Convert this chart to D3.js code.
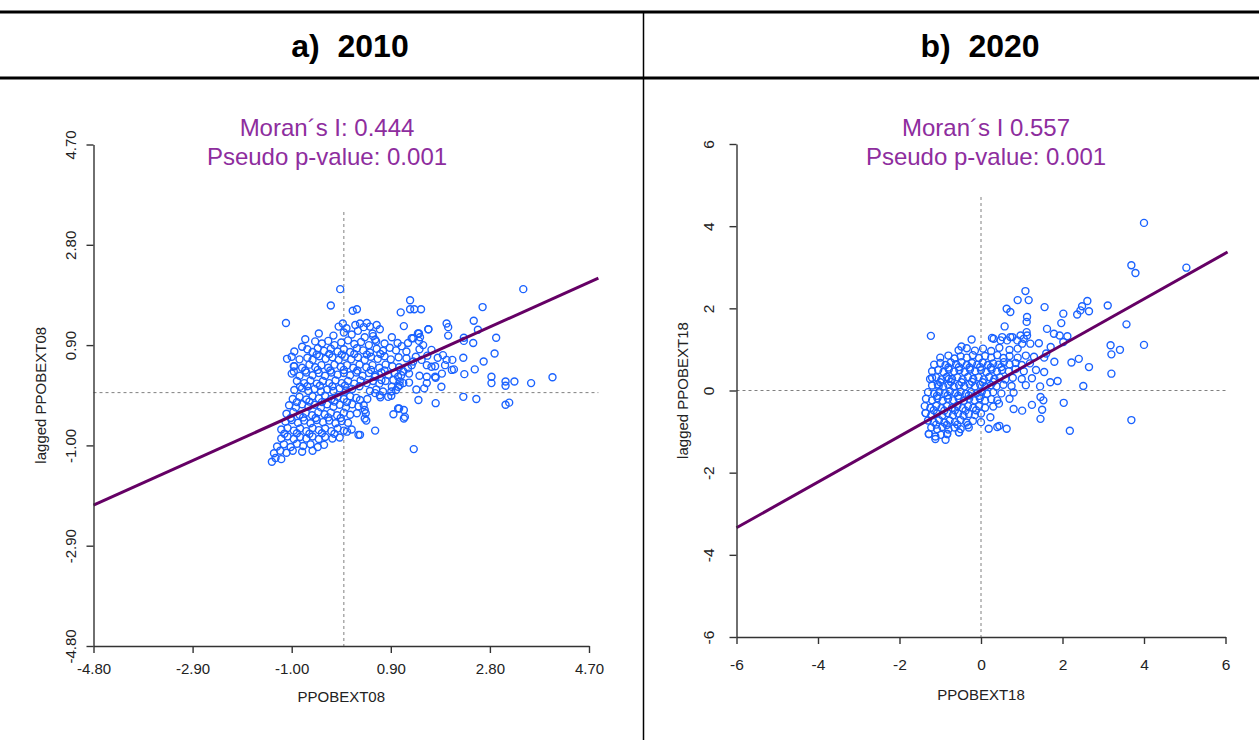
<!DOCTYPE html>
<html>
<head>
<meta charset="utf-8">
<script src="https://cdn.jsdelivr.net/npm/d3@7"></script>
<style>
  body { margin: 0; background: #fff; }
  svg { display: block; font-family: "Liberation Sans", Arial, sans-serif; }
</style>
</head>
<body>
<div id="chart"></div>
<script>
// 面板標題
var panelTitles = ['a)\u00a0\u00a02010', 'b)\u00a0\u00a02020'];
var xTitles = ['PPOBEXT08', 'PPOBEXT18'];
var yTitles = ['lagged PPOBEXT08', 'lagged PPOBEXT18'];

// Moran's I 與 pseudo p 值
var moranLabels = ['Moran\u00b4s I: 0.444', 'Moran\u00b4s I 0.557'];
var moranValues = [0.444, 0.557];
var pLabels = ['Pseudo p-value: 0.001', 'Pseudo p-value: 0.001'];

// 刻度
var ticks2010 = [-4.8, -2.9, -1.0, 0.9, 2.8, 4.7];
var ticks2020 = [-6, -4, -2, 0, 2, 4, 6];

// 2010 散佈點 [x, lagged]
var points2010 = [
  // outliers
  [-0.07, 1.96], [-0.25, 1.65], [-1.11, 1.32], [3.44, 1.96], [4.0, 0.29], [3.59, 0.18],
  [3.27, 0.21], [3.10, 0.21], [3.10, 0.13], [2.83, 0.30], [2.83, 0.18], [3.10, -0.23],
  [3.17, -0.19], [2.54, -0.12], [2.29, -0.08], [2.66, 1.62], [2.49, 1.36], [2.57, 1.19],
  [2.92, 1.04], [2.89, 0.74], [2.68, 0.59], [2.51, 0.44], [2.29, 0.66], [2.31, 0.35],
  [2.08, 0.62], [2.11, 0.44], [1.87, 0.11], [1.76, -0.20], [1.34, -1.07], [1.27, 1.75],
  [1.27, 1.58], [1.35, 1.58], [1.48, 1.58], [1.09, 1.52], [1.15, 1.26], [1.97, 1.31],
  [2.0, 1.24], [2.0, 1.08], [1.62, 1.20], [1.44, 1.12], [1.44, 0.98], [1.30, 1.03],
  [2.30, 1.04], [2.30, 0.98], [2.48, 0.94], [0.95, -0.41], [1.15, -0.33], [1.15, -0.49],
  [1.06, -0.30], [0.60, -0.72], [0.31, -0.80], [1.76, 0.28], [1.59, 0.18], [1.54, 0.08],
  [1.39, 0.06], [1.43, -0.14], [0.85, -0.08], [0.91, -0.06], [0.91, 0.02], [1.14, 0.18],
  [1.04, 0.11], [1.07, 0.21], [0.69, -0.05], [0.60, -0.01], [0.42, -0.39], [0.40, -0.49],
  [0.43, -0.53], [0.38, -0.24], [0.31, -0.14], [0.17, 1.55], [-0.02, 1.31], [-0.74, 1.01],
  [-0.80, 0.87], [-1.09, 0.64], [-0.96, 0.50], [-0.96, 0.40], [-0.84, 0.11], [0.25, 1.58],
  [0.31, 1.31], [0.44, 1.32], [0.50, 1.25], [0.63, 1.28], [0.69, 1.20], [0.56, 1.07],
  [0.60, 1.00], [0.92, 1.05], [1.03, 0.94], [1.11, 0.88], [1.23, 0.94], [1.33, 1.03],
  [1.42, 1.12], [1.46, 1.05], [1.62, 1.20], [1.52, 0.90], [1.68, 0.81], [1.90, 0.71],
  [1.97, 0.62], [1.94, 0.52], [2.07, 0.43], [1.59, 0.30], [1.75, 0.30], [1.68, 0.49],
  [1.59, 0.52], [1.49, 0.62], [1.33, 0.59], [1.23, 0.46], [1.14, 0.40], [1.04, 0.30],
  [1.07, 0.14], [0.92, 0.11], [0.95, 0.24], [1.04, -0.30], [1.17, -0.46], [0.40, -0.33],
  [0.06, -0.74], [0.28, -0.80], [0.60, 0.30], [0.72, 0.24],
  // core
  [-0.55, 0.97], [-0.42, 0.93], [-0.30, 0.98], [-0.18, 0.90], [-0.05, 0.95], [0.08, 0.99],
  [0.20, 0.92], [0.33, 0.96], [0.48, 0.90], [0.62, 0.97], [0.78, 0.93],
  [-0.48, 1.12], [-0.20, 1.08], [0.00, 1.14], [0.15, 1.10], [0.27, 1.17], [0.40, 1.05],
  [0.55, 1.12], [-0.10, 1.25], [0.05, 1.22], [0.22, 1.28], [0.38, 1.24],
  [-0.95, 0.78], [-0.70, 0.82], [-0.60, 0.77], [-0.50, 0.84], [-0.38, 0.79], [-0.25, 0.83],
  [-0.12, 0.78], [0.00, 0.82], [0.12, 0.77], [0.25, 0.84], [0.37, 0.80], [0.50, 0.76],
  [0.63, 0.83], [0.75, 0.79], [0.88, 0.85], [1.00, 0.80], [1.20, 0.78], [1.45, 0.82],
  [-0.52, 0.72], [-0.28, 0.73], [-0.04, 0.72], [0.20, 0.73], [0.44, 0.72], [0.70, 0.73],
  [-1.00, 0.68], [-0.85, 0.63], [-0.70, 0.66], [-0.60, 0.62], [-0.47, 0.69], [-0.35, 0.64],
  [-0.22, 0.67], [-0.10, 0.62], [0.02, 0.68], [0.14, 0.63], [0.27, 0.67], [0.40, 0.62],
  [0.52, 0.68], [0.65, 0.64], [0.78, 0.69], [0.90, 0.63], [1.05, 0.67], [1.20, 0.65],
  [1.38, 0.68], [1.60, 0.70], [1.80, 0.66],
  [-0.95, 0.50], [-0.80, 0.47], [-0.66, 0.53], [-0.55, 0.48], [-0.43, 0.52], [-0.30, 0.47],
  [-0.18, 0.53], [-0.06, 0.49], [0.06, 0.52], [0.18, 0.47], [0.30, 0.53], [0.43, 0.48],
  [0.55, 0.52], [0.68, 0.47], [0.80, 0.53], [0.93, 0.50], [1.06, 0.48], [1.30, 0.52], [1.75, 0.50],
  [-0.74, 0.42], [-0.50, 0.43], [-0.26, 0.42], [0.00, 0.43], [0.26, 0.42], [0.52, 0.43], [0.78, 0.42],
  [-1.00, 0.36], [-0.85, 0.32], [-0.72, 0.38], [-0.60, 0.33], [-0.48, 0.37], [-0.36, 0.32],
  [-0.24, 0.38], [-0.12, 0.34], [0.00, 0.37], [0.12, 0.33], [0.24, 0.38], [0.36, 0.32],
  [0.48, 0.37], [0.60, 0.33], [0.72, 0.38], [0.85, 0.34], [0.97, 0.37], [1.10, 0.33],
  [1.25, 0.36], [1.45, 0.32], [1.88, 0.36],
  [-0.90, 0.22], [-0.76, 0.18], [-0.64, 0.23], [-0.52, 0.17], [-0.40, 0.22], [-0.28, 0.18],
  [-0.16, 0.23], [-0.04, 0.18], [0.08, 0.22], [0.20, 0.17], [0.32, 0.23], [0.44, 0.18],
  [0.56, 0.22], [0.68, 0.17], [0.80, 0.22], [1.25, 0.19],
  [-0.70, 0.12], [-0.46, 0.13], [-0.22, 0.12], [0.02, 0.13], [0.30, 0.12],
  [-0.95, 0.05], [-0.80, 0.08], [-0.68, 0.03], [-0.56, 0.07], [-0.44, 0.02], [-0.32, 0.06],
  [-0.20, 0.03], [-0.08, 0.08], [0.04, 0.04], [0.16, 0.07], [0.50, 0.03], [0.62, 0.06],
  [0.75, 0.02], [1.00, 0.05],
  [-0.98, -0.12], [-0.85, -0.08], [-0.72, -0.13], [-0.60, -0.07], [-0.48, -0.11], [-0.36, -0.06],
  [-0.24, -0.12], [-0.12, -0.08], [0.00, -0.12], [0.12, -0.07], [0.24, -0.10], [0.45, -0.12], [0.70, -0.09],
  [-0.90, -0.18], [-0.66, -0.17], [-0.42, -0.18], [-0.18, -0.17], [0.06, -0.18],
  [-1.05, -0.24], [-0.92, -0.28], [-0.80, -0.22], [-0.68, -0.27], [-0.56, -0.23], [-0.44, -0.28],
  [-0.32, -0.22], [-0.20, -0.27], [-0.08, -0.23], [0.04, -0.28], [0.16, -0.22], [0.28, -0.26],
  [-1.10, -0.40], [-0.97, -0.37], [-0.85, -0.42], [-0.73, -0.38], [-0.61, -0.43], [-0.49, -0.37],
  [-0.37, -0.41], [-0.25, -0.38], [-0.13, -0.43], [0.00, -0.38], [0.12, -0.42], [0.25, -0.39],
  [-1.02, -0.48], [-0.78, -0.47], [-0.54, -0.48], [-0.30, -0.47], [-0.06, -0.48],
  [-1.12, -0.55], [-1.00, -0.52], [-0.88, -0.57], [-0.76, -0.53], [-0.64, -0.58], [-0.52, -0.52],
  [-0.40, -0.56], [-0.28, -0.53], [-0.16, -0.58], [-0.04, -0.54], [0.08, -0.57],
  [-1.20, -0.70], [-1.08, -0.67], [-0.96, -0.72], [-0.84, -0.68], [-0.72, -0.73], [-0.60, -0.67],
  [-0.48, -0.71], [-0.36, -0.68], [-0.24, -0.73], [-0.12, -0.68], [0.00, -0.72], [0.15, -0.70],
  [-1.14, -0.78], [-0.90, -0.77], [-0.66, -0.78], [-0.42, -0.77], [-0.18, -0.78],
  [-1.20, -0.87], [-1.08, -0.83], [-0.96, -0.88], [-0.84, -0.84], [-0.72, -0.87], [-0.60, -0.83],
  [-0.48, -0.88], [-0.36, -0.84], [-0.22, -0.87], [-0.08, -0.85],
  [-1.28, -1.02], [-1.15, -0.98], [-1.02, -1.03], [-0.90, -0.97], [-0.78, -1.01], [-0.64, -0.98],
  [-0.50, -1.03], [-0.38, -0.99],
  [-1.34, -1.15], [-1.22, -1.10], [-1.10, -1.14], [-0.98, -1.10], [-0.80, -1.12], [-0.60, -1.10],
  [-1.38, -1.31], [-1.31, -1.24], [-1.20, -1.26]
];

// 2020 散佈點 [x, lagged]
var points2020 = [
  // outliers
  [4.00, 4.08], [3.69, 3.05], [3.79, 2.86], [5.04, 2.99], [3.11, 2.07], [2.61, 2.18],
  [2.48, 2.05], [2.44, 1.95], [2.65, 1.93], [2.36, 1.85], [3.57, 1.61], [4.00, 1.11],
  [3.18, 1.10], [3.20, 0.88], [3.41, 0.99], [3.20, 0.41], [3.69, -0.72], [2.18, -0.98],
  [2.03, -0.30], [2.51, 0.11], [2.65, 0.57], [2.40, 0.77], [2.22, 0.68], [1.88, 0.23],
  [1.09, 2.42], [0.90, 2.20], [1.17, 2.20], [0.63, 1.99], [0.72, 1.91], [1.56, 2.03],
  [2.02, 1.87], [1.97, 1.64], [1.62, 1.50], [1.79, 1.38], [1.93, 1.34], [2.12, 1.32],
  [2.02, 1.18], [1.13, 1.79], [1.12, 1.67], [1.12, 1.42], [1.13, 1.34], [0.58, 1.56],
  [0.27, 1.28], [0.48, 1.22], [-1.23, 1.33], [-0.48, 1.07], [-0.23, 1.24], [0.72, 1.30],
  [0.89, 1.22], [1.01, 1.14], [1.21, 1.14], [1.42, 1.15], [1.71, 1.06], [1.46, -0.16],
  [1.53, -0.24], [1.50, -0.47], [1.46, -0.69], [0.80, -0.45], [1.01, -0.49], [0.63, -0.93],
  [0.45, -0.86], [0.19, -0.93], [0.23, -0.65], [0.44, -0.32], [-1.20, 0.31], [-0.79, 0.28],
  [-1.04, 0.10], [-1.36, -0.55], [-1.28, -1.06], [-1.12, -1.18], [-0.83, -1.06], [-0.54, -1.02],
  [0.40, -0.89], [0.31, 1.26], [0.52, 1.30], [0.64, 1.22], [0.77, 1.30], [0.97, 1.34],
  [1.05, 1.26], [1.60, 0.90], [1.80, 0.70], [1.55, 0.45], [1.70, 0.20], [1.25, -0.35],
  // core
  [-0.55, 0.98], [-0.35, 1.03], [-0.15, 0.97], [0.05, 1.02], [0.25, 0.96], [0.45, 1.04],
  [0.70, 0.99], [0.90, 1.02],
  [-1.00, 0.80], [-0.80, 0.85], [-0.65, 0.78], [-0.50, 0.83], [-0.35, 0.80], [-0.20, 0.86],
  [-0.05, 0.79], [0.10, 0.84], [0.25, 0.80], [0.40, 0.86], [0.55, 0.79], [0.70, 0.84],
  [0.90, 0.80], [1.10, 0.85], [1.30, 0.82], [1.55, 0.80],
  [-1.15, 0.63], [-1.00, 0.67], [-0.87, 0.62], [-0.74, 0.68], [-0.61, 0.64], [-0.48, 0.69],
  [-0.35, 0.62], [-0.22, 0.67], [-0.09, 0.63], [0.04, 0.68], [0.17, 0.62], [0.30, 0.66],
  [0.43, 0.63], [0.56, 0.69], [0.70, 0.64], [0.85, 0.67], [1.00, 0.62], [1.20, 0.66],
  [-0.80, 0.56], [-0.54, 0.57], [-0.28, 0.56], [-0.02, 0.57], [0.24, 0.56], [0.50, 0.57],
  [-1.20, 0.47], [-1.05, 0.50], [-0.92, 0.45], [-0.79, 0.51], [-0.66, 0.46], [-0.53, 0.50],
  [-0.40, 0.45], [-0.27, 0.51], [-0.14, 0.47], [0.00, 0.50], [0.13, 0.45], [0.26, 0.51],
  [0.39, 0.46], [0.52, 0.50], [0.68, 0.47], [0.85, 0.52], [1.05, 0.47], [1.35, 0.50],
  [-1.25, 0.28], [-1.10, 0.32], [-0.97, 0.27], [-0.84, 0.33], [-0.71, 0.28], [-0.58, 0.32],
  [-0.45, 0.27], [-0.32, 0.33], [-0.19, 0.28], [-0.06, 0.32], [0.07, 0.27], [0.20, 0.33],
  [0.33, 0.28], [0.46, 0.32], [0.60, 0.27], [0.78, 0.31], [1.00, 0.28], [1.25, 0.30],
  [-1.00, 0.20], [-0.74, 0.21], [-0.48, 0.20], [-0.22, 0.21], [0.04, 0.20], [0.30, 0.21],
  [-1.20, 0.12], [-1.06, 0.15], [-0.93, 0.10], [-0.80, 0.14], [-0.67, 0.09], [-0.54, 0.13],
  [-0.41, 0.10], [-0.28, 0.15], [-0.15, 0.10], [-0.02, 0.14], [0.11, 0.09], [0.24, 0.13],
  [0.38, 0.10], [0.55, 0.14], [0.75, 0.11], [1.10, 0.13], [1.45, 0.10],
  [-1.30, -0.04], [-1.15, -0.08], [-1.02, -0.03], [-0.89, -0.07], [-0.76, -0.02], [-0.63, -0.06],
  [-0.50, -0.03], [-0.37, -0.08], [-0.24, -0.04], [-0.11, -0.07], [0.02, -0.03], [0.15, -0.08],
  [0.30, -0.04], [0.50, -0.07], [0.80, -0.05],
  [-1.08, -0.13], [-0.82, -0.12], [-0.56, -0.13], [-0.30, -0.12], [-0.04, -0.13],
  [-1.35, -0.20], [-1.20, -0.24], [-1.07, -0.19], [-0.94, -0.25], [-0.81, -0.20], [-0.68, -0.24],
  [-0.55, -0.19], [-0.42, -0.25], [-0.29, -0.20], [-0.16, -0.24], [-0.03, -0.19], [0.10, -0.25],
  [0.25, -0.21], [0.40, -0.24], [0.70, -0.20],
  [-1.38, -0.38], [-1.24, -0.42], [-1.10, -0.37], [-0.97, -0.43], [-0.84, -0.38], [-0.71, -0.42],
  [-0.58, -0.37], [-0.45, -0.43], [-0.32, -0.38], [-0.19, -0.42], [-0.05, -0.38], [0.10, -0.42], [0.30, -0.39],
  [-1.16, -0.48], [-0.90, -0.49], [-0.64, -0.48], [-0.38, -0.49], [-0.12, -0.48],
  [-1.36, -0.55], [-1.22, -0.60], [-1.08, -0.56], [-0.95, -0.61], [-0.82, -0.55], [-0.69, -0.60],
  [-0.56, -0.56], [-0.43, -0.61], [-0.30, -0.57], [-0.15, -0.60], [0.00, -0.56],
  [-1.30, -0.73], [-1.16, -0.77], [-1.03, -0.72], [-0.90, -0.78], [-0.77, -0.73], [-0.64, -0.77],
  [-0.50, -0.72], [-0.36, -0.78], [-0.20, -0.74], [0.00, -0.77],
  [-1.10, -0.83], [-0.84, -0.84], [-0.58, -0.83], [-0.32, -0.84],
  [-1.22, -0.90], [-1.08, -0.94], [-0.95, -0.89], [-0.80, -0.95], [-0.65, -0.90], [-0.50, -0.94], [-0.30, -0.90],
  [-1.28, -1.06], [-1.12, -1.12], [-0.98, -1.08], [-0.83, -1.06], [-0.54, -1.02], [-0.87, -1.20]
];

var W = 1259, H = 740;
var svg = d3.select('#chart').append('svg')
  .attr('width', W)
  .attr('height', H);

// 表格框線
svg.append('line').attr('x1', 0).attr('x2', W).attr('y1', 12).attr('y2', 12)
  .attr('stroke', '#000').attr('stroke-width', 3);
svg.append('line').attr('x1', 0).attr('x2', W).attr('y1', 78).attr('y2', 78)
  .attr('stroke', '#000').attr('stroke-width', 3);
svg.append('line').attr('x1', 643.5).attr('x2', 643.5).attr('y1', 12).attr('y2', H)
  .attr('stroke', '#000').attr('stroke-width', 1.5);

// R 風格: 用一般的 '-' 而不是 unicode minus
function hyphen(f) {
  return function(d) { return f(d).replace('\u2212', '-'); };
}

// 面板設定 (只放位置)
var panels = [
  {
    title: panelTitles[0], titleX: 350,
    xTitle: xTitles[0], yTitle: yTitles[0],
    moran: moranLabels[0], p: pLabels[0], slope: moranValues[0], textX: 327,
    points: points2010, ticks: ticks2010, fmt: hyphen(d3.format('.2f')),
    xDomain: [-4.8, 4.7], xRange: [93.5, 589],
    yDomain: [-4.8, 4.7], yRange: [646, 144.5],
    lineEnd: 4.88, vTop: 212, fontSize: 15,
    yLabelOff: 18, xLabelOff: 28, xTitleY: 702, yTitleX: 46
  },
  {
    title: panelTitles[1], titleX: 980,
    xTitle: xTitles[1], yTitle: yTitles[1],
    moran: moranLabels[1], p: pLabels[1], slope: moranValues[1], textX: 986,
    points: points2020, ticks: ticks2020, fmt: hyphen(d3.format('d')),
    xDomain: [-6, 6], xRange: [736.5, 1225.5],
    yDomain: [-6, 6], yRange: [637, 144],
    lineEnd: 6.05, vTop: 197, fontSize: 15.5,
    yLabelOff: 23, xLabelOff: 33, xTitleY: 700, yTitleX: 688
  }
];

panels.forEach(function(p) {
  // 標題
  svg.append('text')
    .attr('x', p.titleX)
    .attr('y', 57)
    .attr('text-anchor', 'middle')
    .style('font-weight', 'bold')
    .style('font-size', '32px')
    .text(p.title);

  var x = d3.scaleLinear().domain(p.xDomain).range(p.xRange);
  var y = d3.scaleLinear().domain(p.yDomain).range(p.yRange);
  var g = svg.append('g');

  // 虛線 (x=0, y=0)
  g.append('line')
    .attr('x1', x(0)).attr('x2', x(0))
    .attr('y1', p.vTop).attr('y2', y(p.yDomain[0]))
    .attr('stroke', '#808080').attr('stroke-width', 1).attr('stroke-dasharray', '3,3');
  g.append('line')
    .attr('x1', x(p.xDomain[0])).attr('x2', x(p.lineEnd))
    .attr('y1', y(0)).attr('y2', y(0))
    .attr('stroke', '#808080').attr('stroke-width', 1).attr('stroke-dasharray', '3,3');

  // 散佈點
  g.append('g').selectAll('circle')
    .data(p.points)
    .enter().append('circle')
    .attr('cx', function(d) { return x(d[0]); })
    .attr('cy', function(d) { return y(d[1]); })
    .attr('r', 3.5)
    .attr('fill', 'none')
    .attr('stroke', '#1a62ff')
    .attr('stroke-width', 1.4);

  // 迴歸線 (斜率 = Moran's I)
  var lx = [p.xDomain[0], p.lineEnd];
  g.append('line')
    .attr('x1', x(lx[0])).attr('y1', y(p.slope * lx[0]))
    .attr('x2', x(lx[1])).attr('y2', y(p.slope * lx[1]))
    .attr('stroke', '#650065')
    .attr('stroke-width', 3);

  // x 軸
  var xa = g.append('g')
    .attr('transform', 'translate(0,' + p.yRange[0] + ')')
    .call(d3.axisBottom(x).tickValues(p.ticks).tickFormat(p.fmt).tickSize(7).tickSizeOuter(0));
  xa.selectAll('text')
    .attr('y', p.xLabelOff).attr('dy', 0)
    .style('font-size', p.fontSize + 'px')
    .style('font-family', '"Liberation Sans", Arial, sans-serif')
    .attr('fill', '#222');

  // y 軸 (標籤旋轉)
  var ya = g.append('g')
    .attr('transform', 'translate(' + p.xRange[0] + ',0)')
    .call(d3.axisLeft(y).tickValues(p.ticks).tickFormat(p.fmt).tickSize(7).tickSizeOuter(0));
  ya.selectAll('text')
    .attr('transform', 'rotate(-90)')
    .attr('x', 0).attr('y', -p.yLabelOff).attr('dy', 0)
    .attr('text-anchor', 'middle')
    .style('font-size', p.fontSize + 'px')
    .style('font-family', '"Liberation Sans", Arial, sans-serif')
    .attr('fill', '#222');

  [xa, ya].forEach(function(a) {
    a.select('.domain').attr('stroke', '#333').attr('stroke-width', 1.4);
    a.selectAll('.tick line').attr('stroke', '#333').attr('stroke-width', 1.4);
  });

  // 軸標題
  svg.append('text')
    .attr('x', (p.xRange[0] + p.xRange[1]) / 2)
    .attr('y', p.xTitleY)
    .attr('text-anchor', 'middle')
    .style('font-size', '15px')
    .attr('fill', '#222')
    .text(p.xTitle);
  svg.append('text')
    .attr('transform', 'translate(' + p.yTitleX + ',' + ((p.yRange[0] + p.yRange[1]) / 2) + ') rotate(-90)')
    .attr('text-anchor', 'middle')
    .style('font-size', '15px')
    .attr('fill', '#222')
    .text(p.yTitle);

  // Moran's I 文字
  svg.append('text')
    .attr('x', p.textX).attr('y', 136)
    .attr('text-anchor', 'middle')
    .style('font-size', '24px')
    .attr('fill', '#8e2d9e')
    .text(p.moran);
  svg.append('text')
    .attr('x', p.textX).attr('y', 165)
    .attr('text-anchor', 'middle')
    .style('font-size', '24px')
    .attr('fill', '#8e2d9e')
    .text(p.p);
});
</script>
</body>
</html>
